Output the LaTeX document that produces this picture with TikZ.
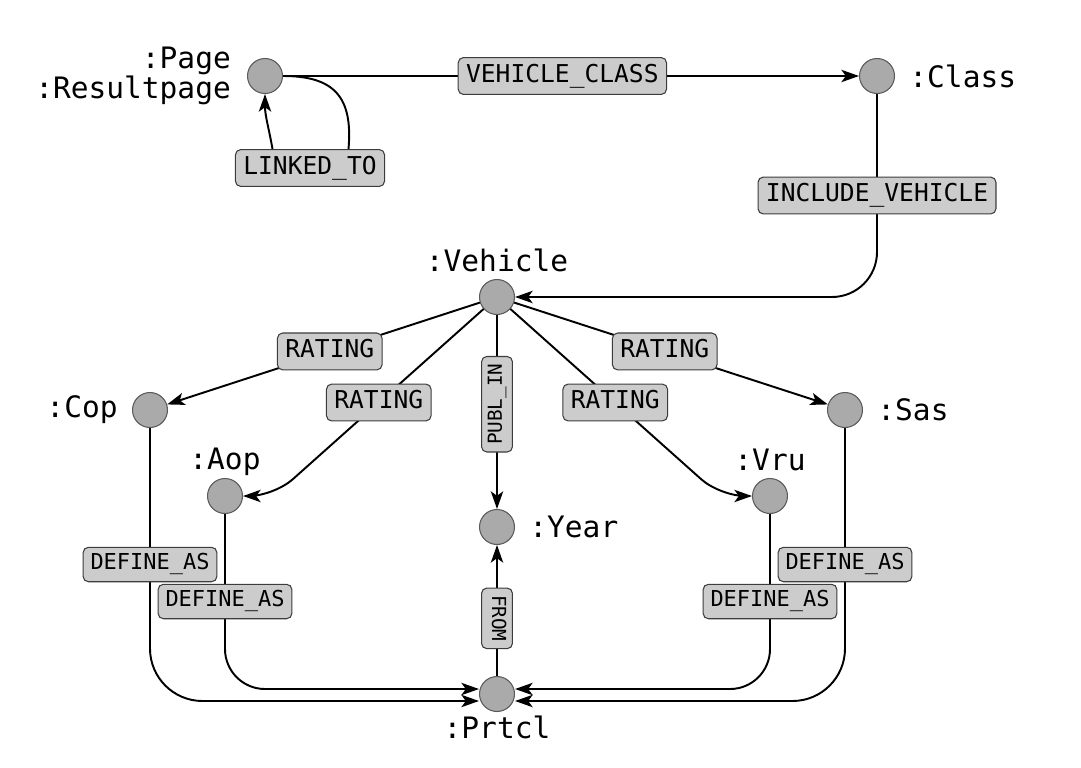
\documentclass[tikz,border=0pt]{standalone}
\usepackage{fontspec}
\setmonofont{DejaVu Sans Mono}
\usetikzlibrary{arrows.meta, positioning}
\definecolor{entfill}{HTML}{AAAAAA}
\definecolor{entline}{HTML}{5A5A5A}
\definecolor{relfill}{HTML}{CCCCCC}
\definecolor{relline}{HTML}{3C3C3C}

\begin{document}
\begin{tikzpicture}[
  x=0.02cm, y=-0.02cm,
  ent/.style={circle, draw=entline, fill=entfill, line width=0.6pt,
              minimum size=0.70cm, inner sep=0pt},
  entlbl/.style={font=\ttfamily\fontsize{16.8}{17}\selectfont, inner sep=0pt, align=right},
  rel/.style={rectangle, draw=relline, fill=relfill, rounded corners=3pt, line width=0.6pt,
              font=\ttfamily\fontsize{14}{14}\selectfont, inner xsep=4.5pt, inner ysep=3.5pt,
              text height=10.5pt, text depth=3.5pt},
  relsm/.style={rel, font=\ttfamily\fontsize{12.5}{12.5}\selectfont, inner xsep=4.2pt,
                text height=9.4pt, text depth=3.2pt},
  relv/.style={rel, font=\ttfamily\fontsize{11}{11}\selectfont, inner xsep=4pt, inner ysep=3.3pt,
               text height=8.3pt, text depth=2.7pt},
  arr/.style={-{Stealth[length=10pt, width=7pt, inset=2.5pt]}, line width=1.1pt},
  ln/.style={line width=1.1pt}
]
\useasboundingbox (0,0) rectangle (1081,767);

% ---- entities ----
\node[ent] (page)  at (265, 76)  {};
\node[ent] (class) at (877, 76)  {};
\node[ent] (veh)   at (497, 297) {};
\node[ent] (cop)   at (150, 410) {};
\node[ent] (sas)   at (845, 410) {};
\node[ent] (aop)   at (225, 496) {};
\node[ent] (vru)   at (770, 496) {};
\node[ent] (year)  at (497, 527) {};
\node[ent] (prtcl) at (497, 694) {};

% ---- entity names ----
\node[entlbl, left=9pt of page]   (page-n)  {:Page\\:Resultpage};
\node[entlbl, right=8pt of class] (class-n) {:Class};
\node[entlbl, above=4pt of veh]   (veh-n)   {:Vehicle};
\node[entlbl, left=8pt of cop]    (cop-n)   {:Cop};
\node[entlbl, right=8pt of sas]   (sas-n)   {:Sas};
\node[entlbl, above=1pt of aop]   (aop-n)   {:Aop};
\node[entlbl, above=4pt of vru]   (vru-n)   {:Vru};
\node[entlbl, right=8pt of year]  (year-n)  {:Year};
\node[entlbl, below=2pt of prtcl] (prtcl-n) {:Prtcl};

% ---- bends ----
\coordinate (aop-b) at (274, 496);
\coordinate (vru-b) at (720, 496);

% ---- page / class ----
\draw[arr] (page) -- node[rel, pos=0.485] (l-vc) {VEHICLE\_CLASS} (class);
\node[rel] (l-lk) at (310, 168) {LINKED\_TO};
\draw[ln]  (page.east) to[out=0, in=85, looseness=1.35] ([xshift=0.77cm]l-lk.north);
\draw[arr] ([xshift=-0.75cm]l-lk.north) to[out=100, in=-90] (page.south);
\draw[arr, rounded corners=0.9cm] (class) |- node[rel, pos=0.25] (l-iv) {INCLUDE\_VEHICLE} (veh);

% ---- vehicle ratings ----
\draw[arr] (veh) -- node[rel, pos=0.48] (l-rc) {RATING} (cop);
\draw[arr] (veh) -- node[rel, pos=0.48] (l-rs) {RATING} (sas);
\draw[arr, rounded corners=0.5cm] (veh) -- node[rel] (l-ra) {RATING} (aop-b) -- (aop);
\draw[arr, rounded corners=0.5cm] (veh) -- node[rel] (l-rv) {RATING} (vru-b) -- (vru);
\draw[arr] (veh) -- node[relv, rotate=90, pos=0.46] (l-pi) {PUBL\_IN} (year);
\draw[arr] (prtcl) -- node[relv, rotate=-90, pos=0.44] (l-fr) {FROM} (year);

% ---- protocols ----
\draw[arr, rounded corners=1.05cm] (cop) |- node[relsm, pos=0.25] (l-dc) {DEFINE\_AS} ([yshift=-0.14cm]prtcl.west);
\draw[arr, rounded corners=0.8cm]  (aop) |- node[relsm, pos=0.25] (l-da) {DEFINE\_AS} ([yshift=0.1cm]prtcl.west);
\draw[arr, rounded corners=0.8cm]  (vru) |- node[relsm, pos=0.25] (l-dv) {DEFINE\_AS} ([yshift=0.1cm]prtcl.east);
\draw[arr, rounded corners=1.05cm] (sas) |- node[relsm, pos=0.25] (l-ds) {DEFINE\_AS} ([yshift=-0.14cm]prtcl.east);

\end{tikzpicture}
\end{document}
